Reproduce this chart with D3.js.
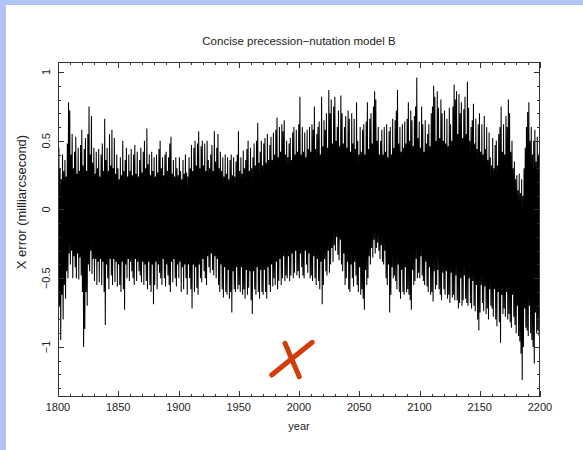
<!DOCTYPE html>
<html><head><meta charset="utf-8">
<script src="https://cdn.jsdelivr.net/npm/d3@7"></script>
<style>html,body{margin:0;padding:0;background:#fff;}svg{display:block;}</style>
</head><body>
<script>
const title = "Concise precession\u2212nutation model B";
const xLabel = "year";
const yLabel = "X error (milliarcsecond)";
const yearStart = 1800, yearEnd = 2200;
const xTicks = [1800,1850,1900,1950,2000,2050,2100,2150,2200];
const yTicks = [-1,-0.5,0,0.5,1];
const yTickLabels = ["\u22121","\u22120.5","0","0.5","1"];

// per-year upper extremes of the error trace (mas), 1800..2200
const upper = [
.26,.45,.30,.22,.40,.28,.36,.24,.48,.78,
.72,.40,.55,.30,.42,.53,.26,.45,.28,.47,
.58,.32,.44,.52,.28,.55,.75,.40,.68,.34,
.45,.26,.42,.30,.44,.24,.40,.48,.28,.66,
.36,.45,.28,.55,.32,.58,.30,.52,.26,.40,
.30,.22,.38,.25,.50,.28,.36,.45,.24,.40,
.28,.44,.25,.40,.47,.26,.42,.24,.36,.45,
.27,.42,.50,.30,.59,.33,.40,.25,.42,.28,
.38,.24,.40,.27,.44,.50,.30,.38,.25,.40,
.42,.28,.38,.48,.53,.26,.36,.24,.38,.30,
.25,.38,.28,.22,.36,.26,.40,.27,.24,.38,
.30,.47,.28,.45,.50,.32,.48,.57,.30,.46,
.50,.32,.48,.28,.50,.36,.30,.40,.47,.28,
.57,.35,.45,.55,.30,.42,.28,.38,.24,.40,
.26,.38,.22,.36,.40,.25,.38,.24,.35,.40,
.57,.28,.38,.26,.43,.30,.36,.44,.50,.28,
.45,.30,.38,.48,.32,.50,.63,.34,.42,.50,
.32,.48,.52,.34,.55,.36,.47,.53,.36,.56,
.40,.58,.67,.38,.60,.42,.62,.57,.65,.40,
.50,.38,.48,.52,.36,.56,.60,.40,.58,.42,
.62,.82,.40,.60,.42,.56,.38,.58,.44,.60,
.42,.62,.58,.75,.44,.55,.60,.64,.40,.82,
.46,.65,.58,.70,.45,.87,.70,.80,.48,.75,
.82,.50,.60,.72,.46,.83,.70,.48,.60,.68,
.45,.72,.66,.42,.70,.48,.66,.44,.78,.50,
.40,.60,.42,.58,.62,.40,.64,.78,.44,.66,
.70,.48,.75,.86,.80,.50,.60,.40,.50,.58,
.40,.60,.42,.62,.38,.57,.60,.40,.66,.45,
.65,.72,.87,.48,.60,.42,.62,.45,.64,.48,
.66,.78,.50,.72,.65,.46,.68,.75,.96,.52,
.64,.45,.75,.62,.42,.65,.48,.55,.62,.46,
.70,.75,.90,.82,.50,.86,.74,.52,.80,.70,
.50,.72,.48,.66,.46,.74,.62,.50,.75,.91,
.80,.86,.55,.84,.70,.78,.52,.73,.82,.55,
.93,.74,.50,.60,.65,.77,.48,.66,.44,.62,
.70,.42,.62,.40,.68,.44,.60,.36,.56,.38,
.32,.52,.30,.47,.50,.32,.55,.60,.75,.42,
.62,.40,.68,.60,.80,.70,.42,.50,.30,.35,
.22,.25,.14,.26,.12,.22,.10,.30,.45,.60,
.71,.78,.50,.60,.40,.50,.58,.35,.53,.40,
.40];

// per-year lower extremes of the error trace (mas), 1800..2200
const lower = [
-.97,-.70,-.95,-.62,-.80,-.55,-.65,-.45,-.50,-.32,
-.40,-.30,-.50,-.34,-.42,-.50,-.32,-.51,-.35,-.48,
-.60,-1.0,-.87,-.60,-.70,-.40,-.45,-.30,-.47,-.36,
-.52,-.36,-.55,-.38,-.53,-.36,-.55,-.38,-.60,-.84,
-.40,-.50,-.58,-.36,-.48,-.55,-.36,-.53,-.38,-.56,
-.40,-.55,-.60,-.38,-.58,-.73,-.40,-.50,-.36,-.52,
-.38,-.45,-.50,-.55,-.36,-.52,-.38,-.45,-.48,-.53,
-.38,-.55,-.40,-.52,-.58,-.38,-.55,-.60,-.40,-.69,
-.55,-.38,-.58,-.40,-.46,-.50,-.55,-.36,-.50,-.56,
-.40,-.48,-.55,-.60,-.38,-.53,-.36,-.50,-.56,-.40,
-.50,-.38,-.60,-.42,-.58,-.40,-.50,-.62,-.40,-.50,
-.58,-.72,-.40,-.60,-.42,-.57,-.62,-.40,-.50,-.53,
-.36,-.45,-.50,-.55,-.34,-.42,-.46,-.32,-.44,-.48,
-.34,-.50,-.36,-.55,-.60,-.40,-.58,-.64,-.42,-.60,
-.62,-.44,-.65,-.60,-.75,-.45,-.58,-.60,-.42,-.58,
-.55,-.60,-.42,-.62,-.58,-.65,-.44,-.62,-.57,-.45,
-.66,-.76,-.45,-.58,-.62,-.42,-.60,-.65,-.44,-.60,
-.62,-.44,-.60,-.65,-.42,-.55,-.60,-.40,-.56,-.50,
-.55,-.38,-.58,-.52,-.36,-.55,-.50,-.34,-.52,-.48,
-.50,-.34,-.52,-.48,-.32,-.50,-.46,-.30,-.48,-.45,
-.50,-.32,-.42,-.48,-.50,-.30,-.40,-.46,-.32,-.50,
-.48,-.52,-.34,-.50,-.55,-.36,-.52,-.58,-.38,-.69,
-.55,-.36,-.45,-.48,-.30,-.46,-.40,-.28,-.38,-.26,
-.30,-.20,-.33,-.37,-.22,-.40,-.45,-.32,-.55,-.50,
-.38,-.58,-.60,-.40,-.50,-.56,-.38,-.48,-.55,-.60,
-.42,-.62,-.58,-.65,-.73,-.44,-.55,-.50,-.34,-.40,
-.28,-.35,-.22,-.32,-.28,-.24,-.30,-.36,-.26,-.38,
-.40,-.30,-.50,-.55,-.40,-.75,-.62,-.42,-.50,-.48,
-.52,-.58,-.40,-.60,-.65,-.44,-.60,-.62,-.42,-.60,
-.58,-.62,-.66,-.73,-.44,-.55,-.52,-.36,-.50,-.46,
-.50,-.34,-.48,-.52,-.55,-.38,-.56,-.60,-.42,-.62,
-.60,-.67,-.45,-.58,-.55,-.44,-.58,-.62,-.66,-.46,
-.58,-.62,-.45,-.65,-.62,-.68,-.46,-.64,-.62,-.66,
-.48,-.66,-.72,-.68,-.50,-.70,-.66,-.48,-.65,-.68,
-.70,-.50,-.68,-.72,-.52,-.70,-.74,-.55,-.80,-.88,
-.75,-.55,-.68,-.74,-.56,-.76,-.72,-.80,-.58,-.70,
-.72,-.78,-.58,-.80,-.85,-.60,-.82,-.97,-.62,-.76,
-.72,-.78,-.60,-.80,-.76,-.82,-.86,-.62,-.78,-.84,
-.90,-.70,-.92,-.96,-1.05,-1.24,-1.0,-.72,-.86,-.88,
-.92,-.70,-.90,-.95,-1.0,-1.12,-.75,-.90,-.88,-.92,
-.85];

// red "X" annotation strokes, in data units [year, mas]
const crossStroke1 = [[1977.3,-1.204],[2011.0,-0.966]];
const crossStroke2 = [[1988.4,-0.973],[2000.2,-1.216]];

const W = 583, H = 450;
const frame = {left:58, right:540, top:62, bottom:397};

const svg = d3.select("body").append("svg").attr("width",W).attr("height",H);
svg.append("rect").attr("width",W).attr("height",H).attr("fill","#b2c3f6");
svg.append("rect").attr("x",6).attr("y",5).attr("width",W-6).attr("height",H-5).attr("fill","#ffffff");

const x = d3.scaleLinear().domain([yearStart, yearEnd]).range([frame.left, frame.right]);
const y = d3.scaleLinear().domain([-1.364, 1.073]).range([frame.bottom, frame.top]);

// trace: visit each year's upper then lower extreme
const pts = [];
upper.forEach((u,i) => {
  pts.push([yearStart + i - 0.25, u]);
  pts.push([yearStart + i + 0.25, lower[i]]);
});

svg.append("clipPath").attr("id","clip").append("rect")
  .attr("x",frame.left).attr("y",frame.top)
  .attr("width",frame.right-frame.left).attr("height",frame.bottom-frame.top);

const line = d3.line().x(d => x(d[0])).y(d => y(d[1]));
svg.append("path").attr("clip-path","url(#clip)")
  .attr("d", line(pts)).attr("fill","none").attr("stroke","#000")
  .attr("stroke-width",1.05).attr("stroke-linejoin","miter").attr("stroke-miterlimit",1);

const font = "'Liberation Sans', Arial, Helvetica, sans-serif";
const axisColor = "#333";

// axes with inward ticks on all sides
const xMinor = d3.range(yearStart, yearEnd + 1, 10);
const majorLen = 6, minorLen = 3;
const g = svg.append("g").attr("stroke",axisColor).attr("stroke-width",1);
xMinor.forEach(v => {
  const len = (v % 50 === 0) ? majorLen : minorLen;
  const px = Math.round(x(v)) + 0.5;
  g.append("line").attr("x1",px).attr("x2",px).attr("y1",frame.bottom).attr("y2",frame.bottom-len);
  g.append("line").attr("x1",px).attr("x2",px).attr("y1",frame.top).attr("y2",frame.top+len);
});
const yMinor = d3.range(-13, 11).map(k => k/10);
yMinor.forEach(v => {
  const major = Math.abs(Math.round(v*10) % 5) === 0;
  const len = major ? majorLen : minorLen;
  const py = Math.round(y(v)) + 0.5;
  g.append("line").attr("x1",frame.left).attr("x2",frame.left+len).attr("y1",py).attr("y2",py);
  g.append("line").attr("x1",frame.right).attr("x2",frame.right-len).attr("y1",py).attr("y2",py);
});
svg.append("rect").attr("x",frame.left+0.5).attr("y",frame.top+0.5)
  .attr("width",frame.right-frame.left-1).attr("height",frame.bottom-frame.top-1)
  .attr("fill","none").attr("stroke",axisColor).attr("stroke-width",1);

// tick labels
svg.append("g").selectAll("text").data(xTicks).join("text")
  .attr("x", d => x(d)).attr("y", 411)
  .attr("text-anchor","middle").attr("font-family",font).attr("font-size",11).attr("fill","#222")
  .text(d => d);
svg.append("g").selectAll("text").data(yTicks).join("text")
  .attr("transform", d => `translate(50,${y(d)}) rotate(-90)`)
  .attr("text-anchor","middle").attr("font-family",font).attr("font-size",11).attr("fill","#222")
  .text((d,i) => yTickLabels[i]);

// titles
svg.append("text").attr("x",(frame.left+frame.right)/2).attr("y",45)
  .attr("text-anchor","middle").attr("font-family",font).attr("font-size",11.5).attr("fill","#222")
  .text(title);
svg.append("text").attr("x",(frame.left+frame.right)/2).attr("y",430)
  .attr("text-anchor","middle").attr("font-family",font).attr("font-size",11).attr("fill","#222")
  .text(xLabel);
svg.append("text").attr("transform",`translate(26,202) rotate(-90)`)
  .attr("text-anchor","middle").attr("font-family",font).attr("font-size",13).attr("fill","#222")
  .text(yLabel);

// red cross annotation
const crossLine = d3.line().x(d => x(d[0])).y(d => y(d[1]));
[crossStroke1, crossStroke2].forEach(s => {
  svg.append("path").attr("d", crossLine(s)).attr("fill","none")
    .attr("stroke","#d23c08").attr("stroke-width",5).attr("stroke-linecap","round");
});
</script>
</body></html>
